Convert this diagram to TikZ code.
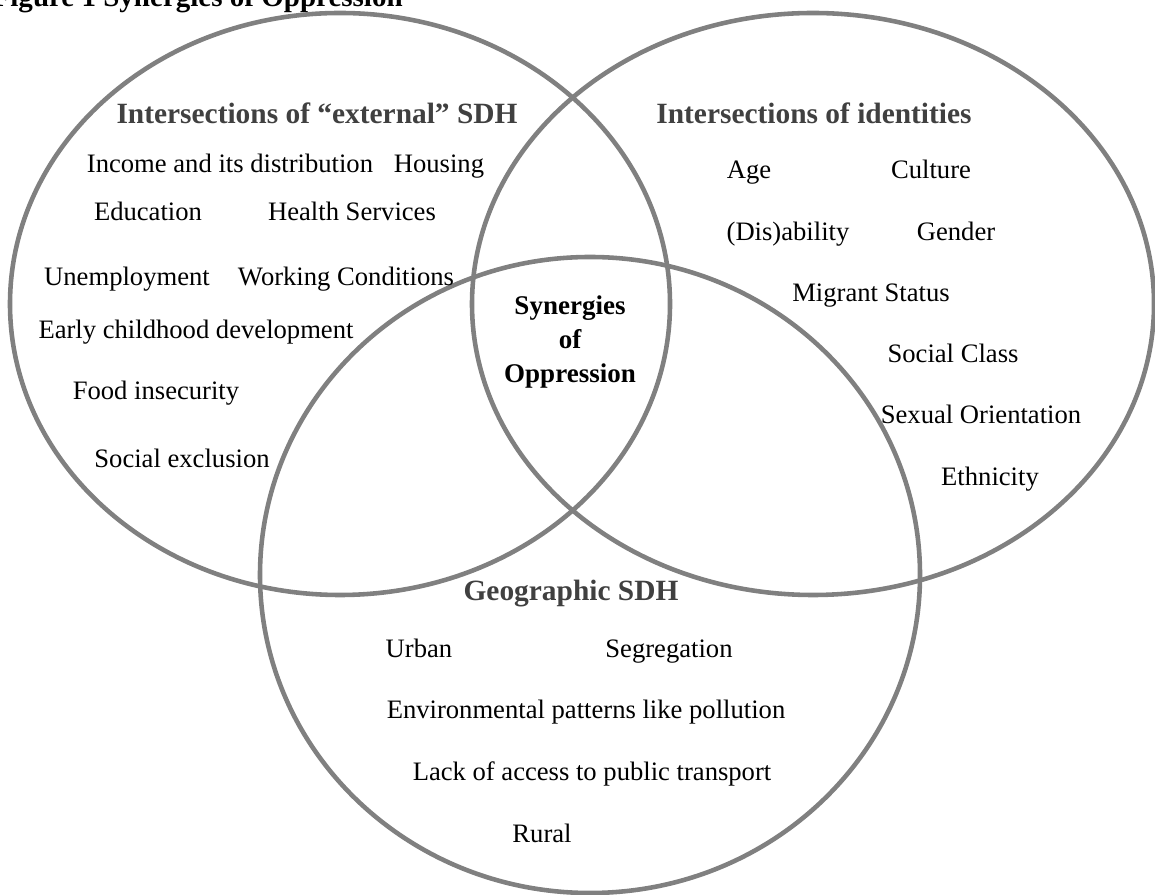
\documentclass[tikz,border=0pt]{standalone}
\usepackage{fontspec}
\setmainfont{Liberation Serif}
\usepackage{xcolor}
\usepackage{tikz}

\definecolor{ringgray}{RGB}{128,128,128}
\definecolor{headgray}{RGB}{64,64,64}

\begin{document}
\begin{tikzpicture}[
		x=0.01cm, y=-0.01cm,
		ring/.style={draw=ringgray, line width=1.3pt},
		item/.style={inner sep=0pt, text height=1.5ex, text depth=.25ex,
			font=\fontsize{7.57}{9}\selectfont},
		heading/.style={item, text=headgray, font=\fontsize{8.36}{10}\selectfont\bfseries},
	]
			\clip (0,0) rectangle (1155,895);

			\node[anchor=base west, inner sep=0pt, font=\fontsize{8.25}{10}\selectfont\bfseries]
				(title) at (-8,7) {Figure 1 Synergies of Oppression};

			% the three sets
			\coordinate (extc) at (340,304);
			\coordinate (idc) at (813,304);
			\coordinate (geoc) at (590,575);
			\draw[ring] (extc) ellipse [x radius=330, y radius=291];
			\draw[ring] (idc) ellipse [x radius=341, y radius=291];
			\draw[ring] (geoc) ellipse [x radius=330, y radius=318];

			% external SDH
			\node[heading] (exthead) at (317,113) {Intersections of ``external'' SDH};
			\node[item] (income) at (230,162) {Income and its distribution};
			\node[item] (housing) at (439,162) {Housing};
			\node[item] (educ) at (148,210) {Education};
			\node[item] (health) at (352,210) {Health Services};
			\node[item] (unemp) at (127,275) {Unemployment};
			\node[item] (work) at (346,275) {Working Conditions};
			\node[item] (early) at (196,328) {Early childhood development};
			\node[item] (food) at (156,389) {Food insecurity};
			\node[item] (exclusion) at (182,457) {Social exclusion};

			% identities
			\node[heading] (idhead) at (814,113) {Intersections of identities};
			\node[item] (age) at (749,168) {Age};
			\node[item] (culture) at (931,168) {Culture};
			\node[item] (ability) at (788,230) {(Dis)ability};
			\node[item] (gender) at (956,230) {Gender};
			\node[item] (migrant) at (871,291) {Migrant Status};
			\node[item] (class) at (953,352) {Social Class};
			\node[item] (sexor) at (981,413) {Sexual Orientation};
			\node[item] (ethnic) at (990,475) {Ethnicity};

			% geographic SDH
			\node[heading] (geohead) at (571,590) {Geographic SDH};
			\node[item] (urban) at (419,647) {Urban};
			\node[item] (segreg) at (669,647) {Segregation};
			\node[item] (environ) at (586,708) {Environmental patterns like pollution};
			\node[item] (transport) at (592,770) {Lack of access to public transport};
			\node[item] (rural) at (542,832) {Rural};

			% overlap of all three
			\node[inner sep=0pt, align=center, font=\fontsize{7.68}{9.53}\selectfont\bfseries]
				(synergy) at (570,342) {Synergies\\of\\Oppression};
		\end{tikzpicture}
\end{document}
